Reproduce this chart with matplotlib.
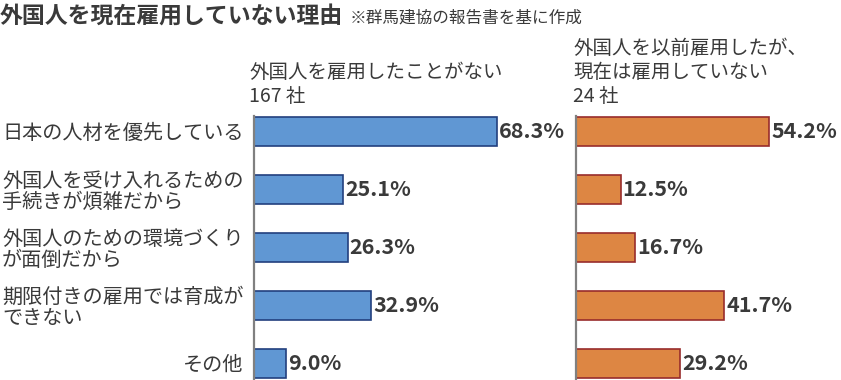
import matplotlib
matplotlib.use('Agg')
import matplotlib.pyplot as plt

plt.rcParams['font.family'] = ['Noto Sans CJK JP', 'DejaVu Sans']

reasons = [
    '日本の人材を優先している',
    '外国人を受け入れるための\n手続きが煩雑だから',
    '外国人のための環境づくり\nが面倒だから',
    '期限付きの雇用では育成が\nできない',
    'その他',
]
never_hired = [68.3, 25.1, 26.3, 32.9, 9.0]
hired_before = [54.2, 12.5, 16.7, 41.7, 29.2]

W, H = 841, 380
TEXT = '#3a3a3a'
PX_PER_PCT = 3.56

fig = plt.figure(figsize=(W / 100, H / 100), dpi=100)


def px_axes(x0, x1, y_top, y_bot):
    return fig.add_axes([x0 / W, 1 - y_bot / H, (x1 - x0) / W, (y_bot - y_top) / H])


def draw_panel(ax, values, width_px, fill, edge, labels=None):
    y = range(len(values))
    ax.barh(y, values, height=0.5, color=fill, edgecolor=edge, linewidth=1.2)
    for i, v in enumerate(values):
        ax.text(v + 0.6, i, f'{v:.1f}%', va='center', ha='left',
                fontsize=15.5, fontweight='bold', color=TEXT)
    ax.set_xlim(0, width_px / PX_PER_PCT)
    ax.set_ylim(4.29, -0.26)
    ax.set_xticks([])
    for s in ['top', 'right', 'bottom']:
        ax.spines[s].set_visible(False)
    ax.spines['left'].set_color('#808080')
    ax.spines['left'].set_linewidth(1.6)
    ax.set_yticks(list(y))
    if labels:
        ax.set_yticklabels(labels, fontsize=14.5, color=TEXT, linespacing=1.05)
        for lab in ax.get_yticklabels():
            lab.set_multialignment('left')
        ax.tick_params(axis='y', length=0, pad=7.5)
    else:
        ax.set_yticklabels([])
        ax.tick_params(axis='y', length=0)
    ax.patch.set_alpha(0)


ax1 = px_axes(254, 570, 116, 380)
draw_panel(ax1, never_hired, 316, '#6097d3', '#22407e', reasons)

ax2 = px_axes(576, 841, 116, 380)
draw_panel(ax2, hired_before, 265, '#dd8643', '#982c2c')


def ftext(px, py, s, **kw):
    fig.text(px / W, 1 - py / H, s, va='center', ha='left', color=TEXT, **kw)


ftext(0, 16, '外国人を現在雇用していない理由', fontsize=16.5, fontweight='bold')
ftext(350, 18, '※群馬建協の報告書を基に作成', fontsize=12)

ftext(249, 72, '外国人を雇用したことがない', fontsize=14)
ftext(249, 96, '167 社', fontsize=14)

ftext(573, 48, '外国人を以前雇用したが、', fontsize=14)
ftext(573, 72, '現在は雇用していない', fontsize=14)
ftext(573, 96, '24 社', fontsize=14)

fig.savefig('out.png', dpi=100)
